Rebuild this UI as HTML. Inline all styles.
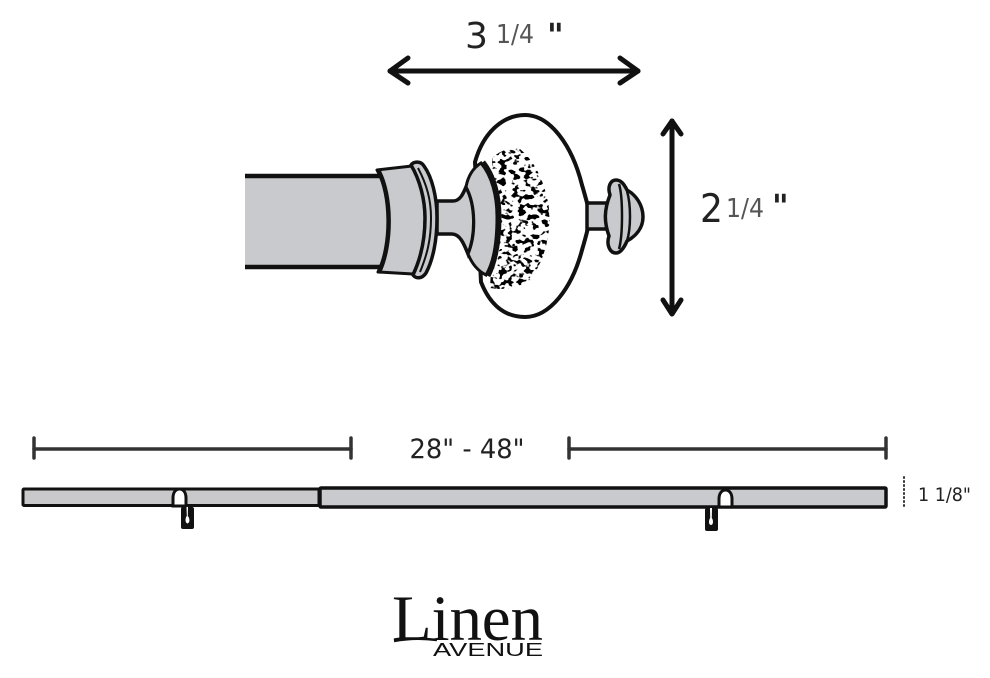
<!DOCTYPE html>
<html><head><meta charset="utf-8"><style>
html,body{margin:0;padding:0;background:#fff;width:990px;height:678px;overflow:hidden}
svg{display:block}
text{font-family:"DejaVu Sans","Liberation Sans",sans-serif;fill:#222}
.l{font-weight:400;fill:#555}
</style></head><body>
<svg width="990" height="678" viewBox="0 0 990 678" xmlns="http://www.w3.org/2000/svg">
<defs>
<filter id="sp" x="0" y="0" width="100%" height="100%" color-interpolation-filters="sRGB">
<feTurbulence type="fractalNoise" baseFrequency="0.16 0.2" numOctaves="2" seed="11"/>
<feColorMatrix type="matrix" values="0 0 0 0 0  0 0 0 0 0  0 0 0 0 0  14 0 0 0 -7.3"/>
</filter>
<clipPath id="spc"><path d="M492 158Q505 146 520 149Q545 170 550 216Q549 255 530 280Q512 292 490 288L494 216Z"/></clipPath>
</defs>
<rect width="990" height="678" fill="#fff"/>

<!-- arrows -->
<g fill="none" stroke="#111" stroke-width="5" stroke-linecap="round" stroke-linejoin="round">
<path d="M390 71H638"/><path d="M408 58L390 71L408 83"/><path d="M620 58L638 71L620 83"/>
<path d="M672 121V313"/><path d="M663 134L672 121L681 134"/><path d="M663 300L672 314L681 300"/>
</g>
<text x="465" y="48" font-size="36" textLength="23" lengthAdjust="spacingAndGlyphs">3</text>
<text x="496" y="43" font-size="26" class="l" textLength="38" lengthAdjust="spacingAndGlyphs">1/4</text>
<text x="547" y="46" font-size="32" font-weight="700" fill="#444">"</text>
<text x="700" y="222" font-size="39" textLength="23" lengthAdjust="spacingAndGlyphs">2</text>
<text x="726" y="217" font-size="26" class="l" textLength="38" lengthAdjust="spacingAndGlyphs">1/4</text>
<text x="772" y="217" font-size="32" font-weight="700" fill="#444">"</text>

<!-- rod -->
<rect x="245" y="176" width="145" height="91" fill="#c8cacd"/>
<path d="M245 176H382M245 267H382" stroke="#111" stroke-width="4.500" fill="none"/>

<!-- ball -->
<path d="M475 162C484 130 505 115 525 115C550 115 572 145 582 185C585 195 587 203 588 206V228C587 232 585 240 582 250C572 288 550 317 525 317C505 317 490 305 481 282Z" fill="#fff" stroke="#111" stroke-width="4"/>
<!-- speckle -->
<g clip-path="url(#spc)">
<rect x="485" y="145" width="70" height="150" fill="#fff"/>
<rect x="485" y="145" width="70" height="150" filter="url(#sp)"/>
</g>

<!-- neck -->
<path d="M437 201H453C460 201 463 194 466 187C476 205 476 235 468 254C464 244 460 234 452 234H437Z" fill="#c8cacd" stroke="#111" stroke-width="3.500"/>
<!-- crescent -->
<path d="M481 163C473 168 468 176 466 187C476 205 476 235 468 254C472 264 478 271 486 275C494 262 497 240 497 217C497 196 492 176 481 163Z" fill="#c8cacd" stroke="#111" stroke-width="3"/>
<path d="M483 162C494 176 499 196 499 217C499 240 496 260 488 276" fill="none" stroke="#111" stroke-width="5"/>

<!-- collar -->
<path d="M377 170L412 166C420 180 425 200 425 218C425 240 421 258 413 274L378 272C392 245 392 195 377 170Z" fill="#c8cacd" stroke="#111" stroke-width="3" stroke-linejoin="round"/>
<path d="M378 170C392 195 392 245 379 272" fill="none" stroke="#111" stroke-width="4.500"/>
<path d="M411 165C414 161 421 161 424 166C432 177 437 197 437 218C437 240 433 260 426 273C422 279 416 279 413 275C421 258 425 240 425 218C425 200 420 180 411 165Z" fill="#c8cacd" stroke="#111" stroke-width="3.500" stroke-linejoin="round"/>
<path d="M418 168C427 185 431 200 431 218C431 240 427 255 420 272" fill="none" stroke="#111" stroke-width="2"/>

<!-- finial -->
<path d="M587 203H610V229H587Z" fill="#c8cacd" stroke="#111" stroke-width="3.500"/>
<path d="M610 195C607 186 611 180 616 180C621 180 624 184 627 190C636 195 643 205 643 217C643 228 636 236 627 241C624 248 620 253 616 253C610 253 606 245 609 236C604 222 604 210 610 195Z" fill="#c8cacd" stroke="#111" stroke-width="3.500" stroke-linejoin="round"/>
<path d="M619 184C623 197 623 235 619 249M627 191C631 205 631 228 627 241" fill="none" stroke="#111" stroke-width="2.500"/>

<!-- dimension lines -->
<g stroke="#333" fill="none" stroke-linecap="round">
<path d="M34 449H351M569 449H886" stroke-width="3.500"/>
<path d="M34 438V458M351 438V458M569 438V458M886 438V458" stroke-width="3.500"/>
<path d="M904 477V507" stroke-width="2" stroke-dasharray="1 3"/>
</g>
<text x="467" y="458" font-size="27" text-anchor="middle" textLength="115" lengthAdjust="spacingAndGlyphs">28" - 48"</text>
<text x="918" y="501" font-size="19" textLength="53" lengthAdjust="spacingAndGlyphs" fill="#333">1 1/8"</text>

<!-- bars -->
<rect x="23" y="489" width="296" height="16.500" rx="1" fill="#c9c9cc" stroke="#111" stroke-width="3"/>
<rect x="320" y="488" width="566" height="19" rx="1" fill="#c8cacd" stroke="#111" stroke-width="3.500"/>

<!-- left bracket -->
<path d="M173 506V498C173 492 176 489 179.500 489C183 489 186 492 186 498V506Z" fill="#fff" stroke="#111" stroke-width="3"/>
<rect x="181" y="507" width="13" height="22" rx="2" fill="#111"/>
<path d="M186.500 507H188L187.800 516C190 518 190 523 187.500 523.500C185 523 185 518 186.800 516Z" fill="#fff"/>
<!-- right bracket -->
<path d="M719 507V499C719 493 722 490 725.500 490C729 490 732 493 732 499V507Z" fill="#fff" stroke="#111" stroke-width="3"/>
<rect x="705" y="508" width="13" height="23" rx="2" fill="#111"/>
<path d="M710 508H712L711.800 518C713.500 520 713.500 525 711 525C708.500 525 708.500 520 710.200 518Z" fill="#fff"/>

<!-- logo -->
<text x="392" y="640" font-size="65" textLength="151" lengthAdjust="spacing" style="font-family:'Liberation Serif',serif;fill:#111">Linen</text>
<path d="M394 641Q415 637 437 640" fill="none" stroke="#111" stroke-width="2.500"/>
<text x="433" y="656" font-size="18" textLength="110" lengthAdjust="spacingAndGlyphs" style="font-family:'Liberation Sans',sans-serif;fill:#111">AVENUE</text>
</svg>
</body></html>
